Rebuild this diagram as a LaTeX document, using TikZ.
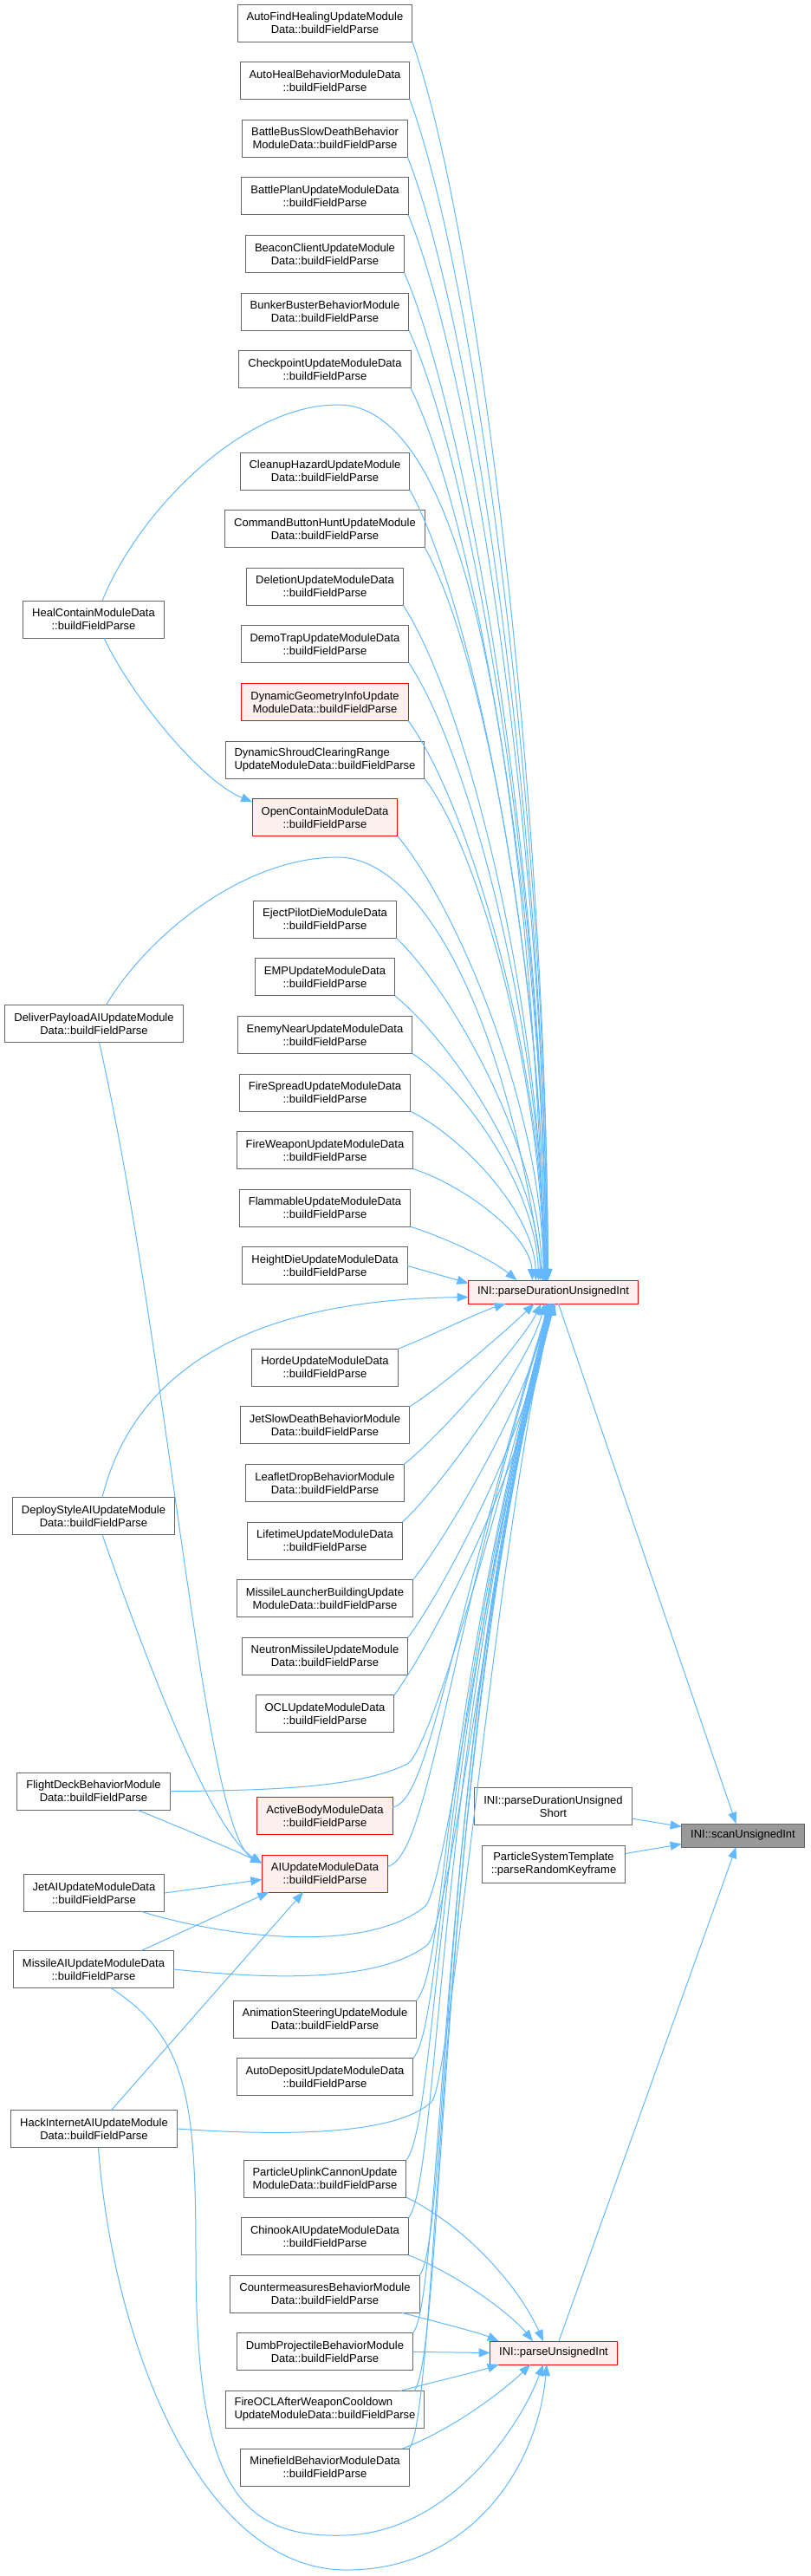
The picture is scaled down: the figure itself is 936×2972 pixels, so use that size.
\documentclass[tikz,border=0pt]{standalone}
\usepackage{fontspec}
\setmainfont{Liberation Sans}
\usepackage{tikz}
\usetikzlibrary{arrows.meta,positioning}
\definecolor{DoxEdge}{HTML}{63B8FF}
\definecolor{DoxFrame}{HTML}{666666}
\definecolor{DoxHot}{HTML}{FFF0F0}
\definecolor{DoxSelf}{HTML}{999999}

\begin{document}
\begin{tikzpicture}[
  x=1pt,y=-1pt,
  node distance=23.6pt,
  box/.style={draw=DoxFrame,fill=white,line width=1pt,outer sep=0pt,
    inner xsep=10.5pt,inner ysep=2pt,minimum height=43pt,
    font=\fontsize{13}{15}\selectfont,align=center},
  hot/.style={box,draw=red,fill=DoxHot},
  focus/.style={box,fill=DoxSelf},
  arrow/.style={-{Triangle[length=13pt,width=10pt]},draw=DoxEdge,line width=1pt}
]
\useasboundingbox (0,0) rectangle (936,2972);

% callers in the middle column
\node[box] (autofind) at (375,26.5) {AutoFindHealingUpdateModule\\Data::buildFieldParse};
\node[box,below=of autofind] (autoheal) {AutoHealBehaviorModuleData\\::buildFieldParse};
\node[box,below=of autoheal] (battlebus) {BattleBusSlowDeathBehavior\\ModuleData::buildFieldParse};
\node[box,below=of battlebus] (battleplan) {BattlePlanUpdateModuleData\\::buildFieldParse};
\node[box,below=of battleplan] (beacon) {BeaconClientUpdateModule\\Data::buildFieldParse};
\node[box,below=of beacon] (bunker) {BunkerBusterBehaviorModule\\Data::buildFieldParse};
\node[box,below=of bunker] (checkpoint) {CheckpointUpdateModuleData\\::buildFieldParse};
\node[box,below=74.5pt of checkpoint] (cleanup) {CleanupHazardUpdateModule\\Data::buildFieldParse};
\node[box,below=of cleanup] (cmdhunt) {CommandButtonHuntUpdateModule\\Data::buildFieldParse};
\node[box,below=of cmdhunt] (deletion) {DeletionUpdateModuleData\\::buildFieldParse};
\node[box,below=of deletion] (demotrap) {DemoTrapUpdateModuleData\\::buildFieldParse};
\node[hot,below=of demotrap] (dyngeom) {DynamicGeometryInfoUpdate\\ModuleData::buildFieldParse};
\node[box,align=left,below=of dyngeom] (dynshroud) {DynamicShroudClearingRange\\UpdateModuleData::buildFieldParse};
\node[hot,below=of dynshroud] (opencontain) {OpenContainModuleData\\::buildFieldParse};
\node[box,below=74.5pt of opencontain] (ejectpilot) {EjectPilotDieModuleData\\::buildFieldParse};
\node[box,below=of ejectpilot] (emp) {EMPUpdateModuleData\\::buildFieldParse};
\node[box,below=of emp] (enemynear) {EnemyNearUpdateModuleData\\::buildFieldParse};
\node[box,below=of enemynear] (firespread) {FireSpreadUpdateModuleData\\::buildFieldParse};
\node[box,below=of firespread] (fireweapon) {FireWeaponUpdateModuleData\\::buildFieldParse};
\node[box,below=of fireweapon] (flammable) {FlammableUpdateModuleData\\::buildFieldParse};
\node[box,below=of flammable] (heightdie) {HeightDieUpdateModuleData\\::buildFieldParse};
\node[box,below=74.5pt of heightdie] (horde) {HordeUpdateModuleData\\::buildFieldParse};
\node[box,below=of horde] (jetdeath) {JetSlowDeathBehaviorModule\\Data::buildFieldParse};
\node[box,below=of jetdeath] (leaflet) {LeafletDropBehaviorModule\\Data::buildFieldParse};
\node[box,below=of leaflet] (lifetime) {LifetimeUpdateModuleData\\::buildFieldParse};
\node[box,below=of lifetime] (launcher) {MissileLauncherBuildingUpdate\\ModuleData::buildFieldParse};
\node[box,below=of launcher] (neutron) {NeutronMissileUpdateModule\\Data::buildFieldParse};
\node[box,below=of neutron] (ocl) {OCLUpdateModuleData\\::buildFieldParse};
\node[hot,below=74.5pt of ocl] (activebody) {ActiveBodyModuleData\\::buildFieldParse};
\node[hot,below=of activebody] (aiupdate) {AIUpdateModuleData\\::buildFieldParse};
\node[box,below=125pt of aiupdate] (animsteer) {AnimationSteeringUpdateModule\\Data::buildFieldParse};
\node[box,below=of animsteer] (autodeposit) {AutoDepositUpdateModuleData\\::buildFieldParse};
\node[box,below=74.5pt of autodeposit] (uplink) {ParticleUplinkCannonUpdate\\ModuleData::buildFieldParse};
\node[box,below=of uplink] (chinook) {ChinookAIUpdateModuleData\\::buildFieldParse};
\node[box,below=of chinook] (counter) {CountermeasuresBehaviorModule\\Data::buildFieldParse};
\node[box,below=of counter] (dumbproj) {DumbProjectileBehaviorModule\\Data::buildFieldParse};
\node[box,align=left,below=of dumbproj] (fireocl) {FireOCLAfterWeaponCooldown\\UpdateModuleData::buildFieldParse};
\node[box,below=of fireocl] (minefield) {MinefieldBehaviorModuleData\\::buildFieldParse};

% callers on the left
\node[box] (healcontain) at (108,714.5) {HealContainModuleData\\::buildFieldParse};
\node[box] (deliver) at (108.5,1181) {DeliverPayloadAIUpdateModule\\Data::buildFieldParse};
\node[box] (deploy) at (108,1749) {DeployStyleAIUpdateModule\\Data::buildFieldParse};
\node[box] (flightdeck) at (108,2066.5) {FlightDeckBehaviorModule\\Data::buildFieldParse};
\node[box] (jetai) at (108.5,2184) {JetAIUpdateModuleData\\::buildFieldParse};
\node[box] (missileai) at (108,2272) {MissileAIUpdateModuleData\\::buildFieldParse};
\node[box] (hack) at (108.5,2456) {HackInternetAIUpdateModule\\Data::buildFieldParse};

% parsers and the scanned function
\node[hot,minimum height=27pt] (durint) at (638.5,1490.5) {INI::parseDurationUnsignedInt};
\node[box] (durshort) at (638.5,2084) {INI::parseDurationUnsigned\\Short};
\node[box] (keyframe) at (639,2150.5) {ParticleSystemTemplate\\::parseRandomKeyframe};
\node[hot,minimum height=27pt] (uint) at (639,2714.5) {INI::parseUnsignedInt};
\node[focus,minimum height=27pt] (scan) at (857.5,2117.5) {INI::scanUnsignedInt};

% into parseDurationUnsignedInt from above
\draw[arrow] (autofind.south east) .. controls (551,262) and (630,905) .. ([xshift=-6pt]durint.north);
\draw[arrow] (autoheal.south east) .. controls (548,319) and (630,932) .. ([xshift=-6pt]durint.north);
\draw[arrow] (battlebus.south east) .. controls (547,376) and (629,959) .. ([xshift=-7pt]durint.north);
\draw[arrow] (battleplan.south east) .. controls (547,432) and (629,985) .. ([xshift=-7pt]durint.north);
\draw[arrow] (beacon.south east) .. controls (542,489) and (628,1012) .. ([xshift=-8pt]durint.north);
\draw[arrow] (bunker.south east) .. controls (547,545) and (628,1039) .. ([xshift=-8pt]durint.north);
\draw[arrow] (checkpoint.south east) .. controls (550,602) and (628,1065) .. ([xshift=-8pt]durint.north);
\draw[arrow] ([xshift=10pt]healcontain.north) .. controls (160,590) and (280,467) .. (390,467)
  .. controls (490,467) and (600,650) .. ([xshift=-9pt]durint.north);
\draw[arrow] (cleanup.south east) .. controls (548,702) and (627,1112) .. ([xshift=-9pt]durint.north);
\draw[arrow] (cmdhunt.south east) .. controls (561,759) and (627,1139) .. ([xshift=-9pt]durint.north);
\draw[arrow] (deletion.south east) .. controls (541,816) and (626,1166) .. ([xshift=-10pt]durint.north);
\draw[arrow] (demotrap.south east) .. controls (543,872) and (626,1192) .. ([xshift=-10pt]durint.north);
\draw[arrow] (dyngeom.south east) .. controls (542,929) and (626,1219) .. ([xshift=-10pt]durint.north);
\draw[arrow] (dynshroud.south east) .. controls (556,986) and (625,1246) .. ([xshift=-11pt]durint.north);
\draw[arrow] (opencontain.south east) .. controls (524,1042) and (625,1272) .. ([xshift=-11pt]durint.north);
\draw[arrow] ([xshift=14pt]deliver.north) .. controls (170,1080) and (280,989) .. (390,989)
  .. controls (480,989) and (580,1150) .. ([xshift=-12pt]durint.north);
\draw[arrow] (ejectpilot.south east) .. controls (519,1141) and (623,1319) .. ([xshift=-13pt]durint.north);
\draw[arrow] (emp.south east) .. controls (517,1198) and (621,1346) .. ([xshift=-15pt]durint.north);
\draw[arrow] (enemynear.south east) .. controls (537,1255) and (619,1373) .. ([xshift=-17pt]durint.north);
\draw[arrow] (firespread.south east) .. controls (534,1312) and (616,1399) .. ([xshift=-20pt]durint.north);
\draw[arrow] (fireweapon.south east) .. controls (537,1368) and (612,1426) .. ([xshift=-24pt]durint.north);
\draw[arrow] (flammable.south east) .. controls (520,1430) and (570,1455) .. ([xshift=-42pt]durint.north);
\draw[arrow] (heightdie.east) -- ([yshift=10pt]durint.west);
\draw[arrow] ([xshift=10pt]deploy.north) .. controls (150,1600) and (260,1500) .. ([yshift=-6pt]durint.west);

% into parseDurationUnsignedInt from below
\draw[arrow] (horde.north east) .. controls (500,1540) and (550,1515) .. ([xshift=-55pt]durint.south);
\draw[arrow] (jetdeath.north east) .. controls (510,1600) and (590,1530) .. ([xshift=-22pt]durint.south);
\draw[arrow] (leaflet.north east) .. controls (510,1655) and (605,1545) .. ([xshift=-14pt]durint.south);
\draw[arrow] (lifetime.north east) .. controls (510,1715) and (612,1570) .. ([xshift=-10pt]durint.south);
\draw[arrow] (launcher.north east) .. controls (515,1775) and (618,1600) .. ([xshift=-8pt]durint.south);
\draw[arrow] (neutron.north east) .. controls (512,1835) and (620,1630) .. ([xshift=-7pt]durint.south);
\draw[arrow] (ocl.north east) .. controls (500,1895) and (622,1660) .. ([xshift=-6pt]durint.south);
\draw[arrow] (flightdeck.east) .. controls (330,2066) and (420,2060) .. (470,2035)
  .. controls (500,2020) and (600,1650) .. ([xshift=-5pt]durint.south);
\draw[arrow] ([yshift=10pt]activebody.east) .. controls (495,2080) and (520,1880) .. ([xshift=-5pt]durint.south);
\draw[arrow] ([yshift=8pt]aiupdate.east) .. controls (495,2140) and (515,1900) .. ([xshift=-4pt]durint.south);
\draw[arrow] ([xshift=55pt]jetai.south) .. controls (260,2235) and (420,2255) .. (490,2200)
  .. controls (515,2180) and (560,1800) .. ([xshift=-4pt]durint.south);
\draw[arrow] (missileai.east) .. controls (300,2282) and (430,2290) .. (492,2245)
  .. controls (520,2225) and (565,1800) .. ([xshift=-3pt]durint.south);
\draw[arrow] (animsteer.north east) .. controls (516,2264) and (505,2000) .. ([xshift=-3pt]durint.south);
\draw[arrow] (autodeposit.north east) .. controls (513,2331) and (505,2000) .. ([xshift=-2pt]durint.south);
\draw[arrow] (hack.east) .. controls (350,2466) and (460,2460) .. (498,2425)
  .. controls (520,2405) and (570,1800) .. ([xshift=-2pt]durint.south);
\draw[arrow] (uplink.north east) .. controls (505,2448) and (505,2000) .. ([xshift=-1pt]durint.south);
\draw[arrow] (chinook.north east) .. controls (507,2515) and (505,2000) .. (durint.south);
\draw[arrow] (counter.north east) .. controls (519,2581) and (505,2000) .. (durint.south);
\draw[arrow] (dumbproj.north east) .. controls (512,2648) and (505,2000) .. ([xshift=1pt]durint.south);
\draw[arrow] ([xshift=-12pt]fireocl.north east) .. controls (514,2715) and (505,2000) .. ([xshift=1pt]durint.south);
\draw[arrow] (minefield.north east) .. controls (507,2781) and (505,2000) .. ([xshift=2pt]durint.south);

% base-class parsers
\draw[arrow] ([xshift=12pt]healcontain.south) .. controls (150,800) and (230,900) .. ([yshift=18pt]opencontain.west);
\draw[arrow] ([xshift=6pt]deliver.south) .. controls (195,1560) and (235,2115) .. ([yshift=12pt]aiupdate.west);
\draw[arrow] ([xshift=10pt]deploy.south) .. controls (160,1890) and (240,2110) .. ([yshift=12pt]aiupdate.west);
\draw[arrow] ([xshift=50pt]flightdeck.south) .. controls (200,2105) and (260,2130) .. ([yshift=12pt]aiupdate.west);
\draw[arrow] (jetai.east) -- ([yshift=-7pt]aiupdate.west);
\draw[arrow] ([xshift=55pt]missileai.north) -- ([xshift=8pt]aiupdate.south west);
\draw[arrow] ([xshift=20pt]hack.north) -- ([xshift=-25pt]aiupdate.south);

% into parseUnsignedInt
\draw[arrow] (uplink.south east) .. controls (540,2570) and (600,2640) .. ([xshift=-12pt]uint.north);
\draw[arrow] (chinook.south east) .. controls (530,2625) and (590,2670) .. ([xshift=-24pt]uint.north);
\draw[arrow] ([xshift=-20pt]counter.south east) .. controls (520,2683) and (555,2692) .. ([xshift=10pt]uint.north west);
\draw[arrow] (dumbproj.east) -- (uint.west);
\draw[arrow] ([xshift=-28pt]fireocl.north east) .. controls (500,2748) and (545,2738) .. ([xshift=10pt]uint.south west);
\draw[arrow] ([xshift=-8pt]minefield.north east) .. controls (530,2800) and (590,2750) .. ([xshift=-27pt]uint.south);
\draw[arrow] ([xshift=20pt]missileai.south) .. controls (215,2350) and (226,2420) .. (226,2600)
  .. controls (226,2860) and (270,2930) .. (400,2925)
  .. controls (520,2920) and (600,2800) .. ([xshift=-12pt]uint.south);
\draw[arrow] ([xshift=5pt]hack.south) .. controls (130,2700) and (230,2965) .. (400,2965)
  .. controls (540,2965) and (620,2850) .. ([xshift=-8pt]uint.south);

% into scanUnsignedInt
\draw[arrow] ([xshift=6pt]durint.south) -- ([xshift=-8pt]scan.north);
\draw[arrow] ([yshift=-14pt]durshort.east) -- ([yshift=10pt]scan.west);
\draw[arrow] ([yshift=12pt]keyframe.east) -- ([yshift=-10pt]scan.west);
\draw[arrow] ([xshift=6pt]uint.north) -- ([xshift=-8pt]scan.south);
\end{tikzpicture}
\end{document}
